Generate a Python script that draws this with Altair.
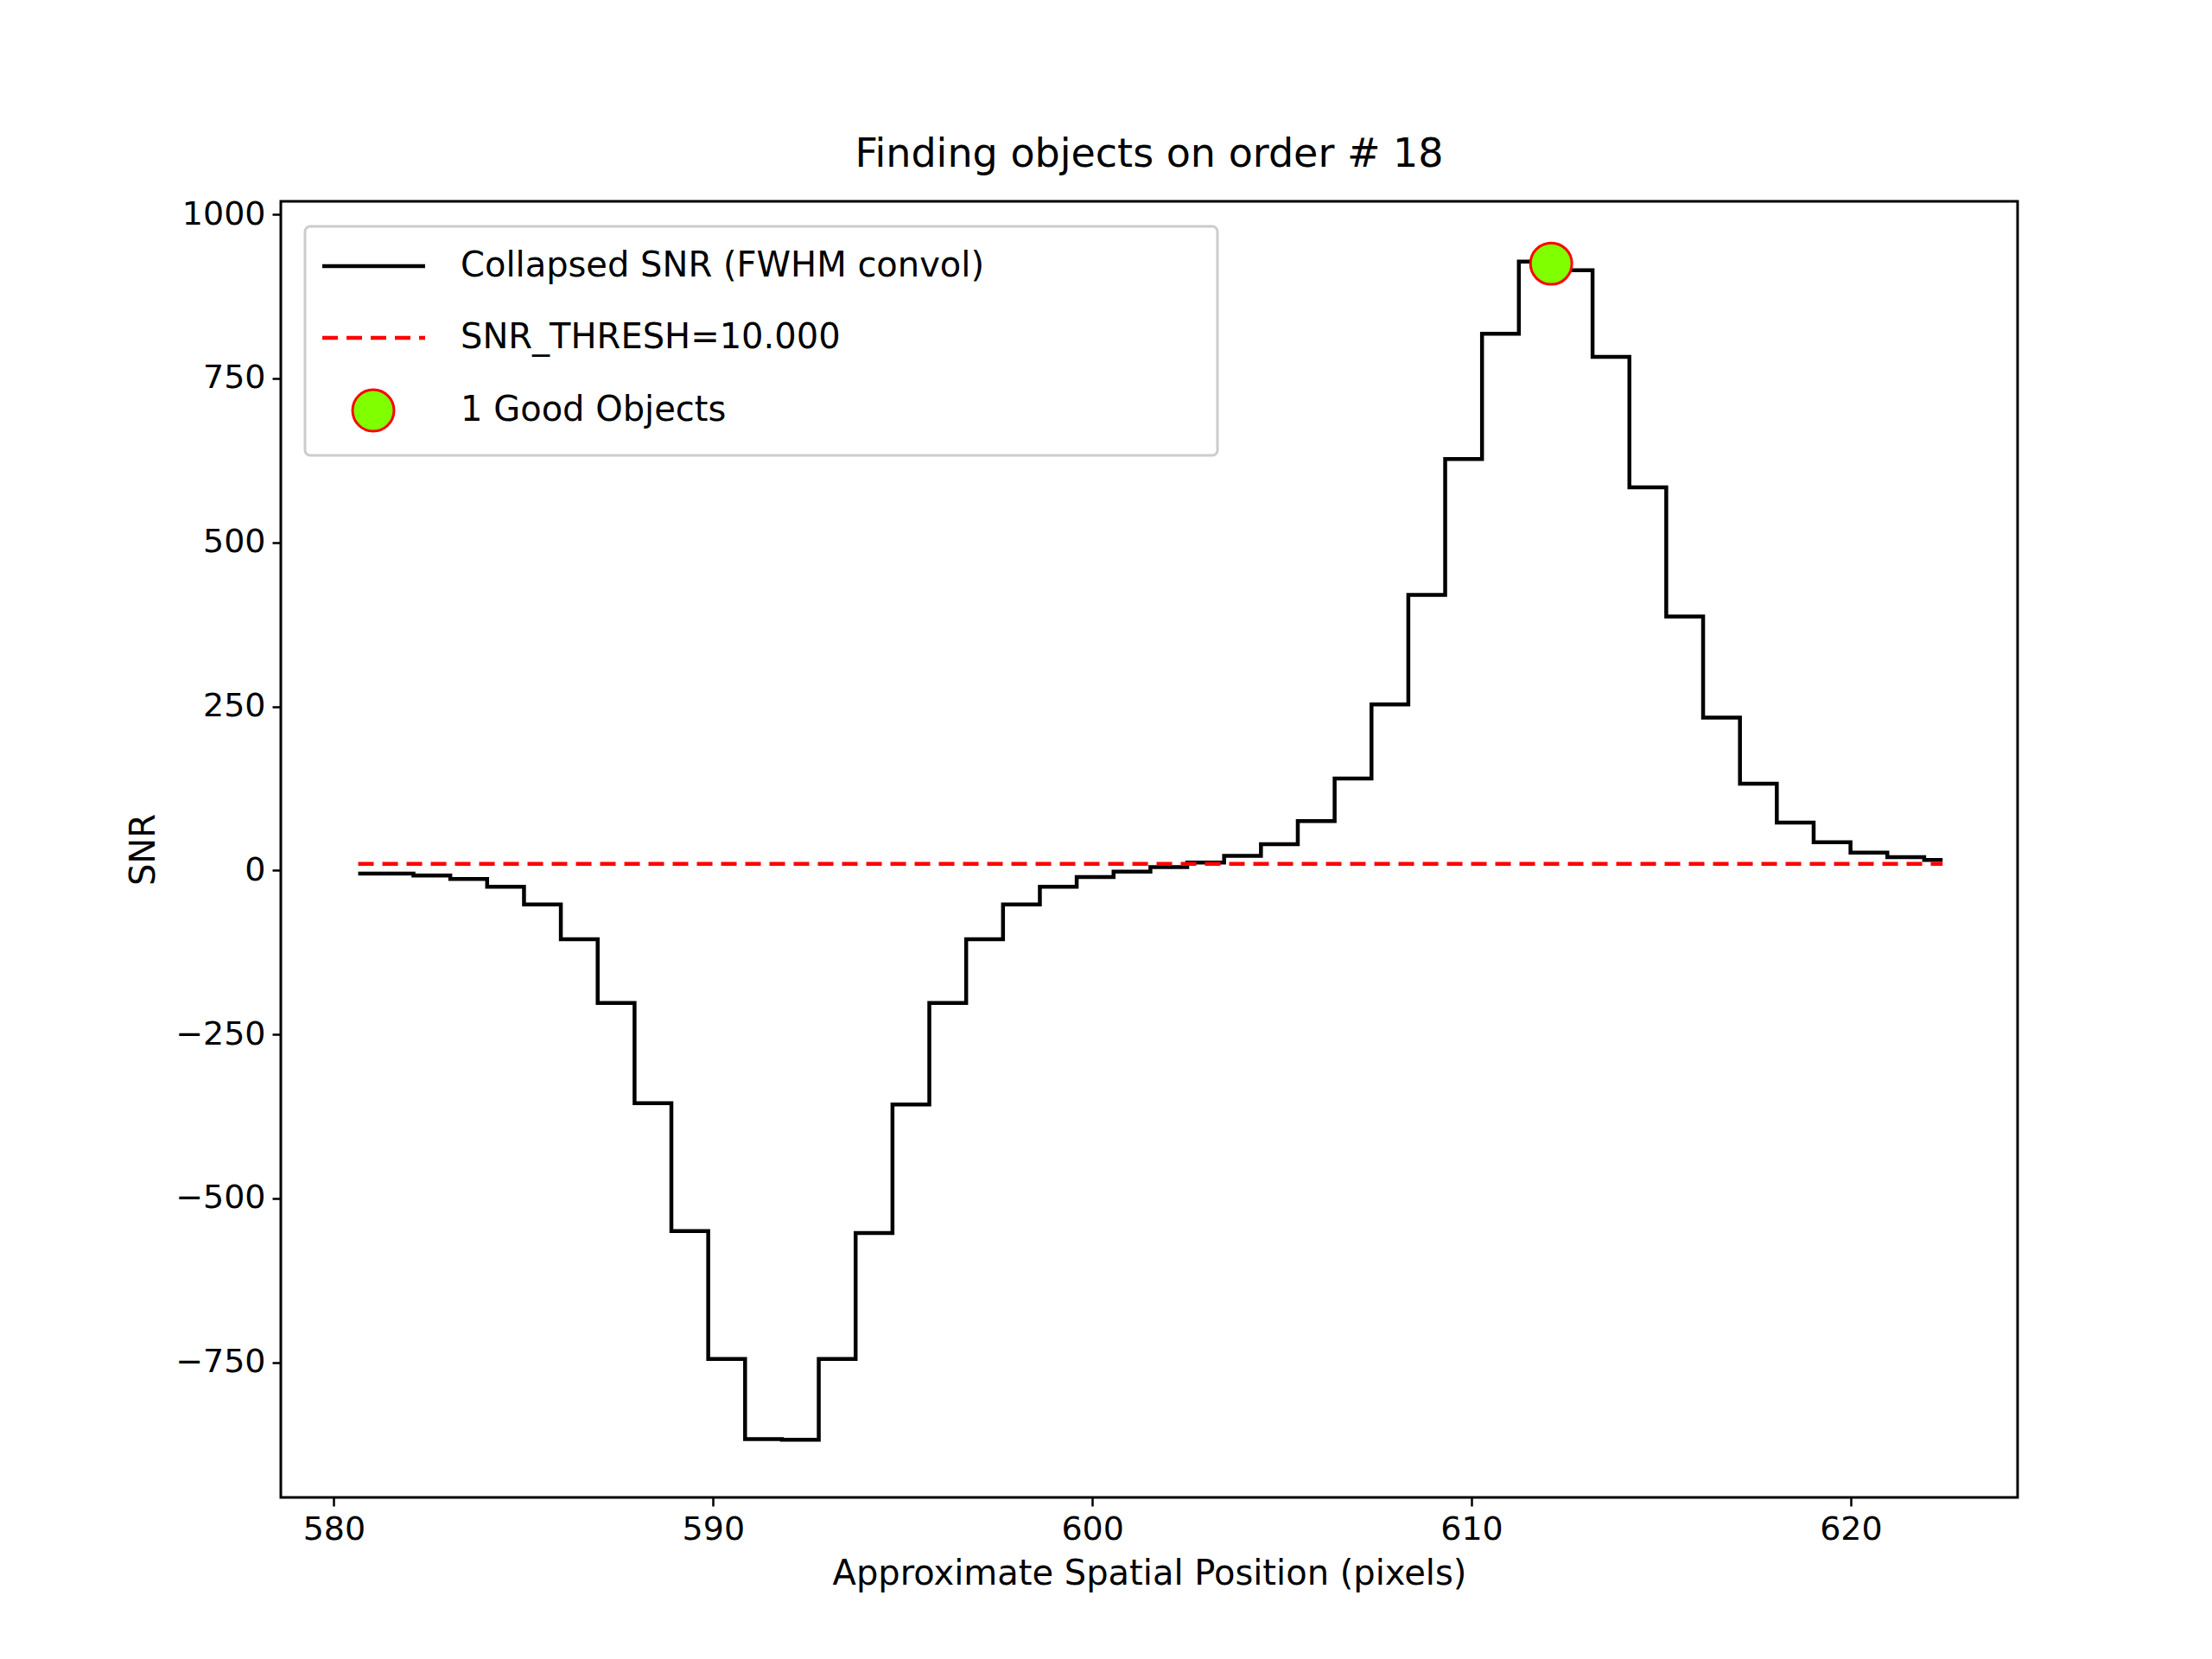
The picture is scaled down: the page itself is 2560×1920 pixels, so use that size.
import altair as alt
import pandas as pd

x0 = 580.64
dx = 0.9717
snr = [-5, -5, -8, -13, -25, -52, -105, -202, -355, -550, -745, -867, -868, -745,
       -553, -357, -202, -105, -52, -25, -10, -2, 5, 12, 22, 40, 75, 140, 253, 420,
       627, 818, 928, 915, 783, 584, 387, 233, 132, 73, 43, 27, 20, 16]
xs = [round(x0 + dx * i, 3) for i in range(len(snr))]
thresh = 10.0
obj_x = [612.1]
obj_y = [925]
legend_labels = ["Collapsed SNR (FWHM convol)", "SNR_THRESH=10.000", "1 Good Objects"]

df = pd.DataFrame({"x": xs, "snr": snr})
dth = pd.DataFrame({"x": [xs[0], xs[-1]], "y": [thresh, thresh]})
dobj = pd.DataFrame({"x": obj_x, "y": obj_y})

F = "DejaVu Sans"
xsc = alt.Scale(domain=[578.6, 624.4], nice=False, zero=False)
ysc = alt.Scale(domain=[-956, 1020], nice=False, zero=False)
common = dict(grid=False, labelFontSize=38, titleFontSize=40, titleFont=F, labelFont=F, tickSize=10,
              domain=False, labelColor="black", titleColor="black", tickColor="black", tickWidth=2.5,
              titleFontWeight="normal", labelPadding=8, format="d")
xax = alt.Axis(values=[580, 590, 600, 610, 620], title="Approximate Spatial Position (pixels)",
               titlePadding=12, **common)
yax = alt.Axis(values=[-750, -500, -250, 0, 250, 500, 750, 1000], title="SNR",
               titlePadding=16, **common)

line = alt.Chart(df).mark_line(interpolate="step", color="black", strokeWidth=4.5).encode(
    x=alt.X("x:Q", scale=xsc, axis=xax), y=alt.Y("snr:Q", scale=ysc, axis=yax))
th = alt.Chart(dth).mark_line(color="red", strokeDash=[18, 10], strokeWidth=4.5).encode(
    x=alt.X("x:Q", scale=xsc), y=alt.Y("y:Q", scale=ysc))
pt = alt.Chart(dobj).mark_point(filled=True, fill="#7FFF00", stroke="red", strokeWidth=3,
                                size=2300, opacity=1).encode(
    x=alt.X("x:Q", scale=xsc), y=alt.Y("y:Q", scale=ysc))

one = pd.DataFrame({"a": [0]})
box = alt.Chart(one).mark_rect(fill="white", stroke="#cccccc", strokeWidth=3, cornerRadius=6).encode(
    x=alt.value(28), x2=alt.value(1084), y=alt.value(29), y2=alt.value(294))
l1 = alt.Chart(one).mark_rule(color="black", strokeWidth=4.5).encode(
    x=alt.value(48), x2=alt.value(167), y=alt.value(75))
l2 = alt.Chart(one).mark_rule(color="red", strokeWidth=4.5, strokeDash=[18, 10]).encode(
    x=alt.value(48), x2=alt.value(167), y=alt.value(158))
l3 = alt.Chart(one).mark_point(filled=True, fill="#7FFF00", stroke="red", strokeWidth=3,
                               size=2300, opacity=1).encode(x=alt.value(107), y=alt.value(242))
texts = [alt.Chart(one).mark_text(text=t, align="left", baseline="middle", fontSize=40, font=F,
                                  color="black").encode(x=alt.value(208), y=alt.value(yy))
         for t, yy in zip(legend_labels, [75, 158, 242])]

chart = alt.layer(line, th, pt, box, l1, l2, l3, *texts).properties(
    width=2010, height=1500,
    title=alt.Title("Finding objects on order # 18", fontSize=46, font=F, fontWeight="normal",
                    color="black", offset=26),
    autosize=alt.AutoSizeParams(type="none"),
    padding={"left": 317, "top": 225, "right": 217, "bottom": 180},
).configure(background="white").configure_view(stroke="black", strokeWidth=3)

chart.save("out.html", embed_options={"renderer": "svg", "actions": False})
